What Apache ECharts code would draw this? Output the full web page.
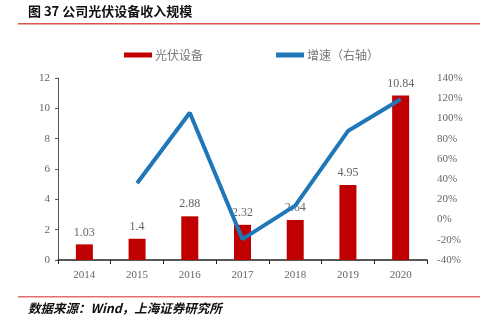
<!DOCTYPE html>
<html><head><meta charset="utf-8">
<script src="https://cdn.jsdelivr.net/npm/echarts@6/dist/echarts.min.js"></script>
<style>html,body{margin:0;padding:0;background:#fff}#c{width:500px;height:327px}</style>
</head><body><div id="c"></div>
<script>
var years = ['2014','2015','2016','2017','2018','2019','2020'];
var revenue = [1.03, 1.4, 2.88, 2.32, 2.64, 4.95, 10.84];
var growth = [null, 35.9, 105.7, -19.4, 13.8, 87.5, 119.0];
var leftTicks = [0, 12, 2];
var rightTicks = [-40, 140, 20];

var chart = echarts.init(document.getElementById('c'));
var serif = '"Liberation Serif", "Noto Sans CJK SC", serif';
var legendText = {color: '#777', fontSize: 12, fontFamily: '"Noto Sans CJK SC"', padding: [0, 0, 0, -2]};
chart.setOption({
  animation: false,
  backgroundColor: '#fff',
  graphic: [
    {type: 'text', left: 28, top: 5, style: {text: '图 37 公司光伏设备收入规模', font: 'bold 13px "Noto Sans CJK SC"', fill: '#111'}},
    {type: 'rect', shape: {x: 18, y: 23, width: 462, height: 1.5}, style: {fill: '#d9534f'}},
    {type: 'rect', shape: {x: 18, y: 296, width: 462, height: 1.5}, style: {fill: '#e07070'}},
    {type: 'text', left: 28, top: 302, style: {text: '数据来源：Wind，上海证券研究所', font: 'italic bold 12.5px "Noto Sans CJK SC"', fill: '#111'}}
  ],
  legend: [
    {top: 44, left: 119, itemWidth: 28, itemHeight: 5, textStyle: legendText,
     data: [{name: '光伏设备', icon: 'rect'}]},
    {top: 44, left: 271, itemWidth: 28, itemHeight: 5, textStyle: legendText,
     data: [{name: '增速（右轴）', icon: 'rect', itemStyle: {color: '#1f77b8'}}]}
  ],
  grid: {left: 58, right: 73, top: 78, bottom: 67},
  xAxis: {
    type: 'category', data: years,
    axisLine: {lineStyle: {color: '#222', width: 1.5}},
    axisTick: {show: true, alignWithLabel: false, length: 4, inside: false, lineStyle: {color: '#222'}},
    axisLabel: {color: '#666', fontSize: 11, fontFamily: serif, margin: 10}
  },
  yAxis: [
    {type: 'value', min: leftTicks[0], max: leftTicks[1], interval: leftTicks[2],
     axisLine: {show: true, lineStyle: {color: '#555'}},
     axisTick: {show: true, length: 3, lineStyle: {color: '#555'}},
     splitLine: {show: false},
     axisLabel: {color: '#666', fontSize: 11, fontFamily: serif, margin: 8}},
    {type: 'value', min: rightTicks[0], max: rightTicks[1], interval: rightTicks[2], position: 'right',
     axisLine: {show: false}, axisTick: {show: false}, splitLine: {show: false},
     axisLabel: {color: '#666', fontSize: 11, fontFamily: serif, margin: 10, formatter: '{value}%'}}
  ],
  series: [
    {name: '光伏设备', type: 'bar', data: revenue, barWidth: 17, itemStyle: {color: '#c00000'},
     label: {show: true, position: 'top', color: '#666', fontSize: 12, fontFamily: serif, distance: 6}},
    {name: '增速（右轴）', type: 'line', yAxisIndex: 1, data: growth, symbol: 'none',
     lineStyle: {color: '#1f77b8', width: 4}, itemStyle: {color: '#1f77b8'}, z: 5}
  ]
});
</script></body></html>
